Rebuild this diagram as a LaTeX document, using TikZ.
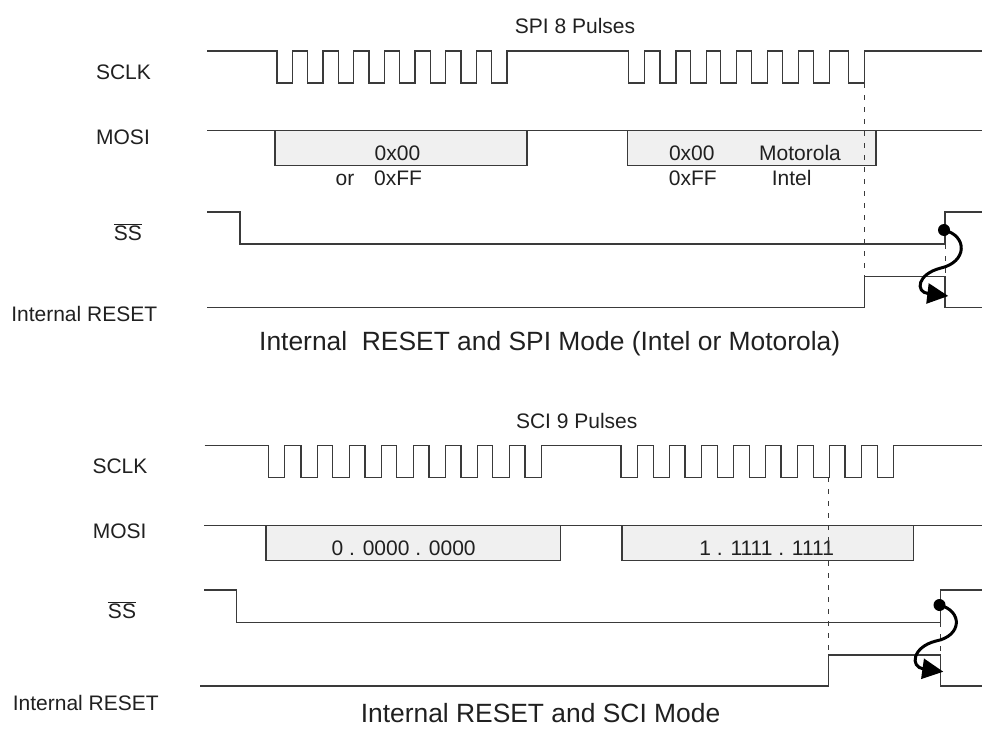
\documentclass[tikz,border=0pt]{standalone}
\usepackage{fontspec}
\setmainfont{Liberation Sans}
\usetikzlibrary{arrows.meta}
\definecolor{linegray}{HTML}{3A3A3A}
\definecolor{boxgray}{HTML}{F0F0F0}
\definecolor{txtgray}{HTML}{202020}
\tikzset{
  wave/.style={draw=linegray, line width=1.2pt},
  busbox/.style={wave, fill=boxgray},
  marker/.style={draw=linegray, line width=0.9pt, dash pattern=on 5pt off 7pt},
  lbl/.style={anchor=base, inner sep=0pt, text=txtgray, font=\fontsize{21}{25}\selectfont},
  caption/.style={lbl, font=\fontsize{26.4}{30}\selectfont},
  cause/.style={draw=black, line width=3pt, -{Triangle[length=21pt,width=20pt]}},
  dot/.style={fill=black}
}
\begin{document}
\begin{tikzpicture}[x=1pt, y=-1pt]
\useasboundingbox (0,0) rectangle (982,728);

% ---------- SPI mode ----------
\node[lbl] (spipulses) at (575,33.2) {SPI 8 Pulses};
\node[lbl] (sclkA) at (123.5,79) {SCLK};
\node[lbl] (mosiA) at (123,144) {MOSI};
\node[lbl] (ssA) at (127.8,240) {$\overline{\mbox{SS}}$};
\node[lbl] (rstA) at (84.2,321.7) {Internal RESET};

% SCLK
\draw[wave] (207,51)
  \foreach \t in {277,307.7,338.3,369,399.7,430.3,461,491.7} { -- (\t,51) -- (\t,83) -- (\t+15.3,83) -- (\t+15.3,51) }
  \foreach \t in {628.3,660,690.7,720.7,751.7,782.7,813.3,848.3} { -- (\t,51) -- (\t,83) -- (\t+16,83) -- (\t+16,51) }
  -- (982,51);

% MOSI
\draw[busbox] (275,130.7) rectangle (527,165.3);
\draw[busbox] (627.3,130.7) rectangle (876,165.3);
\draw[wave] (207,130.7) -- (982,130.7);
\node[lbl] (byteA) at (397.5,160) {0x00};
\node[lbl] (orbyteA) at (378.8,185) {or\hspace{0.95em}0xFF};
\node[lbl] (byteB) at (691.8,160) {0x00};
\node[lbl] (motorola) at (800,160) {Motorola};
\node[lbl] (byteC) at (692.8,185) {0xFF};
\node[lbl] (intel) at (791.7,185) {Intel};

% SS and internal reset
\draw[wave] (207,212) -- (240,212) -- (240,244) -- (945,244) -- (945,212) -- (982,212);
\draw[wave] (207,307.7) -- (864.3,307.7) -- (864.3,276.7) -- (945,276.7) -- (945,307.7) -- (982,307.7);
\draw[marker] (864.3,83) -- (864.3,276.7);
\draw[marker] (945,244) -- (945,276.7);

\coordinate (ssriseA) at (944,230);
\coordinate (rsttipA) at (948.3,296);
\fill[dot] (ssriseA) circle (6);
\draw[cause] (ssriseA) .. controls (968,236) and (967,262) .. (941,268)
  .. controls (917,274) and (915,292) .. (rsttipA);

\node[caption] (capA) at (549.7,350.3) {Internal\ \ RESET and SPI Mode (Intel or Motorola)};

% ---------- SCI mode ----------
\node[lbl] (scipulses) at (576.7,428.3) {SCI 9 Pulses};
\node[lbl] (sclkB) at (120,473.3) {SCLK};
\node[lbl] (mosiB) at (119.7,538.3) {MOSI};
\node[lbl] (ssB) at (122,618.3) {$\overline{\mbox{SS}}$};
\node[lbl] (rstB) at (85.8,710.7) {Internal RESET};

% SCLK
\draw[wave] (204.7,445.7)
  \foreach \t in {268.3,301,332.7,365,396.7,429,461,492.7,525} { -- (\t,445.7) -- (\t,477.3) -- (\t+16.4,477.3) -- (\t+16.4,445.7) }
  \foreach \t in {621,653.3,685,717.3,749.3,781,813.3,845,877.3} { -- (\t,445.7) -- (\t,477.3) -- (\t+16.2,477.3) -- (\t+16.2,445.7) }
  -- (982,445.7);

% MOSI
\draw[busbox] (266,525.7) rectangle (560.7,560.7);
\draw[busbox] (622,525.7) rectangle (913.3,560.7);
\draw[wave] (204,525.7) -- (982,525.7);
\node[lbl] (zeros) at (403.7,555) {0 . 0000 . 0000};
\node[lbl] (ones) at (766.7,555) {1 . 1111 . 1111};

% SS and internal reset
\draw[wave] (204,590) -- (236.7,590) -- (236.7,622.3) -- (940.5,622.3) -- (940.5,590) -- (982,590);
\draw[wave] (200,686) -- (828.3,686) -- (828.3,655) -- (940.5,655) -- (940.5,686) -- (982,686);
\draw[marker] (828.3,477.3) -- (828.3,655);
\draw[marker] (940.5,622.3) -- (940.5,655);

\coordinate (ssriseB) at (939.5,605);
\coordinate (rsttipB) at (943.3,671.7);
\fill[dot] (ssriseB) circle (6);
\draw[cause] (ssriseB) .. controls (963,611) and (962,636) .. (936,641)
  .. controls (912,647) and (910,667) .. (rsttipB);

\node[caption] (capB) at (540.5,722) {Internal RESET and SCI Mode};
\end{tikzpicture}
\end{document}
